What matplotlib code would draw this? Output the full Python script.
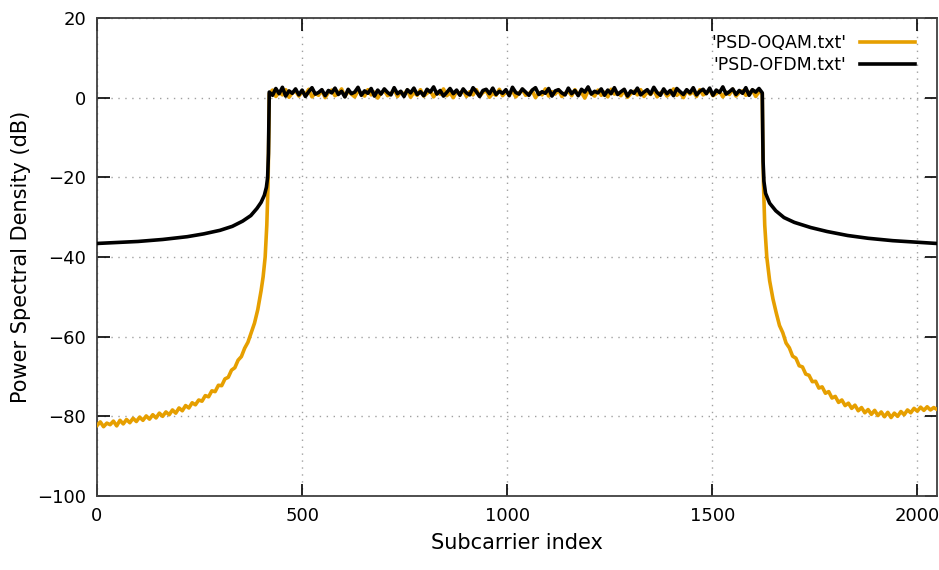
# PSD comparison OQAM vs OFDM (gnuplot look)

import numpy as np
import matplotlib.pyplot as plt

# --- OQAM spectrum ---
oqam_left_x = list(range(0, 401, 8)) + [405, 410, 414, 417, 419]
oqam_left_y = [-82.3, -81.4, -82.6, -81.7, -82.1, -81.2, -82.4, -81.0, -81.9, -80.8,
               -81.6, -80.5, -81.3, -80.2, -81.0, -79.9, -80.7, -79.6, -80.4, -79.2,
               -80.0, -78.9, -79.6, -78.4, -79.2, -77.9, -78.6, -77.3, -77.9, -76.6,
               -77.1, -75.9, -76.2, -74.8, -75.1, -73.6, -73.8, -72.2, -72.3, -70.6,
               -70.2, -68.4, -67.8, -65.9, -65.0, -62.9, -61.4, -59.0, -56.6, -53.2,
               -48.5,
               -45.0, -40.0, -32.0, -22.0, -8.0]

oqam_band = [1.0, 1.9, 0.3, 1.4, 0.7, 2.0, 0.1, 1.2, 1.7, 0.4,
             1.5, 0.8, 2.1, 0.2, 1.1, 0.6, 1.8, 0.0, 1.3, 1.9,
             0.5, 1.0, 2.2, 0.3, 1.6, 0.9, 0.2, 1.7, 1.1, 0.4,
             2.0, 0.7, 1.4, -0.1, 1.2, 1.8, 0.5, 1.0, 2.1, 0.3,
             1.5, 0.8, 1.9, 0.1, 1.3, 0.6, 2.0, 0.4, 1.1, 1.7,
             0.2, 1.4, 0.9, 2.2, 0.5, 1.2, 0.0, 1.6, 1.0, 1.9,
             0.3, 1.5, 0.7, 2.0, 0.4, 1.3, 1.8, 0.1, 1.1, 0.6,
             2.1, 0.5, 1.4, 0.9, 1.7, 0.2, 1.2, 2.0, 0.6, 1.0,
             1.8, 0.0, 1.3, 0.7, 2.2, 0.4, 1.5, 0.9, 1.9, 0.3,
             1.1, 1.6, 0.5, 2.0, 0.8, 1.3, -0.1, 1.7, 1.0, 0.4,
             1.9, 0.6, 1.4, 0.2, 2.1, 0.9, 1.2, 0.5, 1.8, 0.1,
             1.0, 1.6, 0.7, 2.0, 0.3, 1.4, 0.8, 1.9, 0.2, 1.2,
             1.7, 0.4, 1.1, 2.2, 0.6, 1.3, 0.0, 1.8, 0.9, 1.5,
             0.3, 2.0, 0.7, 1.2, 1.9, 0.5, 1.0, 1.6, 0.2, 1.4,
             0.8, 2.1, 0.4, 1.3, 1.7, 0.6, 1.1, 1.9, 0.3, 1.5,
             1.0]

oqam_right_x = [1623, 1625, 1628, 1633, 1640, 1648] + list(range(1656, 2041, 8)) + [2047]
oqam_right_y = [-10.0, -22.0, -32.0, -40.0, -46.0, -50.5,
                -54.0, -57.2, -59.0, -61.6, -62.8, -64.9, -65.4, -67.3, -67.6, -69.4,
                -69.7, -71.3, -71.2, -72.9, -72.6, -74.2, -73.8, -75.4, -75.0, -76.5,
                -75.9, -77.3, -76.7, -78.0, -77.2, -78.6, -77.8, -79.1, -78.3, -79.5,
                -78.5, -79.8, -78.9, -80.1, -79.0, -80.3, -79.2, -80.0, -78.8, -79.6,
                -78.4, -79.1, -78.0, -78.7, -77.7, -78.5, -77.6, -78.4, -77.8,
                -78.2]

# --- OFDM spectrum ---
ofdm_left_x = [0, 100, 160, 220, 260, 300, 330, 355, 375, 390, 400, 408, 413, 416,
               418, 419]
ofdm_left_y = [-36.6, -36.1, -35.6, -34.9, -34.2, -33.3, -32.3, -31.0, -29.6, -27.8,
               -26.3, -24.5, -22.5, -20.0, -14.0, -6.0]

ofdm_band = [1.4, 0.6, 2.3, 1.0, 2.6, 0.4, 1.7, 1.1, 2.2, 0.7,
             1.9, 0.3, 1.5, 2.5, 0.9, 1.3, 2.0, 0.5, 1.8, 1.2,
             2.4, 0.8, 1.6, 0.2, 2.1, 1.0, 1.4, 2.6, 0.6, 1.7,
             1.1, 2.3, 0.4, 1.9, 0.9, 2.2, 1.3, 0.7, 2.5, 1.0,
             1.6, 0.3, 2.0, 1.2, 2.4, 0.8, 1.5, 0.5, 2.1, 1.4,
             2.7, 0.9, 1.8, 0.4, 1.3, 2.3, 1.0, 1.9, 0.6, 2.2,
             1.2, 0.7, 2.5, 1.5, 0.3, 1.8, 2.1, 1.0, 2.4, 0.8,
             1.6, 1.1, 2.0, 0.5, 2.6, 1.3, 0.9, 2.2, 1.4, 0.6,
             1.9, 2.5, 0.8, 1.5, 1.1, 2.3, 0.4, 1.7, 2.0, 1.2,
             0.7, 2.4, 1.0, 1.8, 0.5, 2.1, 1.4, 2.7, 0.9, 1.6,
             1.2, 2.2, 0.6, 1.9, 1.0, 2.5, 0.8, 1.5, 2.1, 0.4,
             1.7, 1.1, 2.4, 0.7, 1.4, 2.0, 0.9, 2.6, 1.3, 0.6,
             2.2, 1.0, 1.8, 0.5, 2.3, 1.5, 0.8, 2.0, 1.2, 2.5,
             0.7, 1.6, 2.1, 1.0, 2.4, 0.6, 1.9, 1.3, 2.7, 0.9,
             1.5, 2.2, 0.8, 1.8, 1.1, 2.5, 0.6, 2.0, 1.4, 2.3,
             1.2]

ofdm_right_x = [1623, 1624, 1626, 1630, 1640, 1655, 1675, 1700, 1740, 1780, 1830,
                1880, 1940, 2000, 2047]
ofdm_right_y = [-8.0, -16.0, -21.0, -24.0, -26.5, -28.4, -30.1, -31.3, -32.6, -33.6,
                -34.6, -35.3, -35.9, -36.3, -36.6]

band_start, band_end = 420, 1622

xticks = [0, 500, 1000, 1500, 2000]
yticks = [20, 0, -20, -40, -60, -80, -100]


def series(lx, ly, band, rx, ry):
    bx = np.linspace(band_start, band_end, len(band))
    x = np.concatenate([lx, bx, rx])
    y = np.concatenate([ly, band, ry])
    return x, y


ox, oy = series(oqam_left_x, oqam_left_y, oqam_band, oqam_right_x, oqam_right_y)
fx, fy = series(ofdm_left_x, ofdm_left_y, ofdm_band, ofdm_right_x, ofdm_right_y)

fig = plt.figure(figsize=(9.39, 5.70), dpi=100)
ax = fig.add_axes([97/939, 74/570, 840/939, 478/570])

ax.plot(ox, oy, color="#e69f00", lw=2.6, label="'PSD-OQAM.txt'", zorder=3)
ax.plot(fx, fy, color="black", lw=2.6, label="'PSD-OFDM.txt'", zorder=4)

ax.set_xlim(0, 2048)
ax.set_ylim(-100, 20)
ax.set_xticks(xticks)
ax.set_yticks(yticks)
ax.grid(True, linestyle=(0, (1, 4)), color="#a0a0a0", lw=1.0)
ax.tick_params(direction="in", length=9, width=1.2, top=True, right=True,
               labelsize=13, pad=8)
for s in ax.spines.values():
    s.set_linewidth(1.3)
    s.set_color("#404040")

ax.set_xlabel("Subcarrier index", fontsize=15, labelpad=6)
ax.set_ylabel("Power Spectral Density (dB)", fontsize=15, labelpad=4)

ax.legend(loc="upper right", bbox_to_anchor=(0.993, 1.0), frameon=False,
          markerfirst=False, fontsize=12.5, handlelength=3.2, handletextpad=0.8,
          labelspacing=0.25)

fig.savefig("out.png", dpi=100)
